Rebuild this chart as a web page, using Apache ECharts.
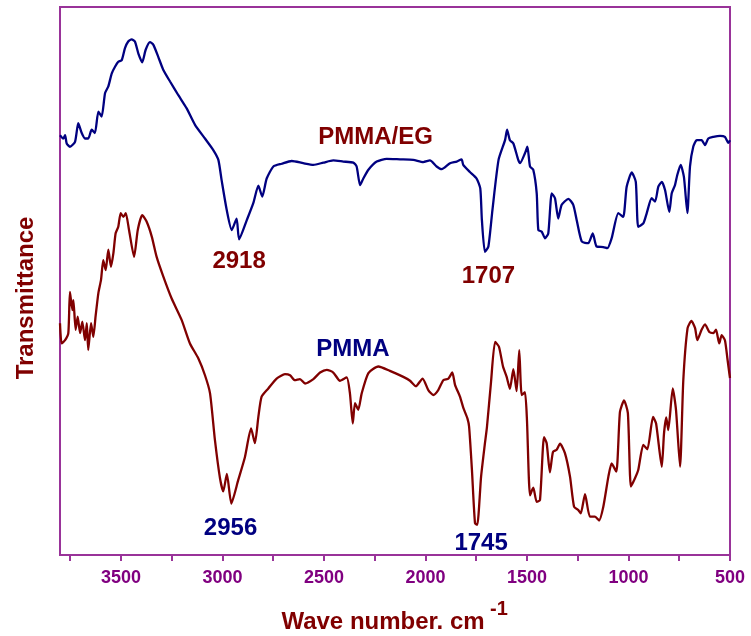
<!DOCTYPE html>
<html>
<head>
<meta charset="utf-8">
<script src="https://cdn.jsdelivr.net/npm/echarts@6/dist/echarts.min.js"></script>
<style>
  html, body { margin: 0; padding: 0; background: #ffffff; }
  #chart { width: 751px; height: 636px; }
</style>
</head>
<body>
<div id="chart"></div>
<script>
// FTIR spectra: wavenumber (cm-1) and transmittance (arbitrary units, curves offset)
const pmmaEgWn = [3800,3784,3775,3767,3751,3726,3710,3693,3677,3661,
  3644,3628,3611,3595,3578,3562,3545,3529,3513,3496,
  3480,3464,3447,3431,3414,3395,3378,3357,3340,3316,
  3291,3258,3217,3176,3135,3086,3045,3020,3004,2979,
  2954,2930,2918,2880,2848,2823,2804,2782,2749,2708,
  2659,2602,2552,2503,2454,2405,2355,2339,2322,2306,
  2281,2240,2191,2125,2060,2011,1978,1945,1920,1879,
  1846,1822,1814,1781,1748,1730,1722,1707,1690,1670,
  1640,1608,1598,1584,1567,1543,1534,1510,1498,1485,
  1469,1452,1444,1427,1411,1395,1378,1362,1346,1329,
  1296,1272,1255,1230,1198,1176,1157,1124,1104,1083,
  1050,1026,1009,984,964,952,927,910,886,869,
  853,836,820,799,787,771,760,743,727,710,
  697,681,664,640,623,607,582,549,525,508,
  500];
const pmmaEgT = [76.6,76.0,76.6,75.1,74.5,75.4,78.8,77.0,76.0,76.0,
  77.6,77.0,80.9,80.0,84.3,85.5,87.9,89.1,90.0,90.3,
  92.5,93.7,94.1,93.7,91.5,89.9,92.2,93.6,93.1,90.9,
  88.5,86.4,83.9,81.5,78.5,76.0,73.9,72.1,68.4,63.0,
  59.3,61.4,57.6,61.1,64.2,67.4,65.4,68.7,70.9,71.4,
  71.9,71.5,71.2,71.6,72.0,71.8,71.6,70.9,67.5,68.7,
  70.3,71.8,72.3,72.2,72.1,71.7,72.0,70.9,70.4,71.5,
  71.8,72.2,71.2,69.9,68.7,66.9,61.1,55.3,56.3,63.0,
  72.1,75.7,77.6,75.7,75.1,72.1,71.5,73.3,74.5,70.9,
  70.3,66.0,59.3,59.0,57.8,58.7,66.0,65.1,61.4,63.9,
  65.0,63.9,61.1,57.2,56.9,58.7,56.3,56.2,56.0,57.8,
  62.4,61.7,67.2,69.8,68.1,59.9,60.5,62.4,65.1,64.5,
  67.2,68.1,66.6,62.6,66.0,67.5,69.3,71.2,69.0,62.4,
  70.9,74.5,75.7,75.7,74.8,76.0,76.3,76.5,76.3,75.2,
  75.7];

const pmmaWn = [3800,3792,3775,3759,3751,3739,3734,3723,3713,3701,
  3690,3677,3668,3661,3647,3636,3624,3611,3598,3587,
  3575,3562,3549,3537,3526,3513,3501,3488,3476,3460,
  3435,3417,3395,3373,3348,3324,3291,3250,3201,3160,
  3119,3086,3061,3037,3012,2996,2978,2956,2922,2889,
  2859,2840,2823,2807,2774,2733,2692,2667,2643,2618,
  2593,2552,2519,2486,2454,2421,2388,2372,2358,2347,
  2331,2314,2281,2232,2175,2109,2076,2047,2014,1986,
  1961,1937,1912,1887,1868,1854,1830,1813,1793,1785,
  1771,1756,1745,1726,1707,1697,1677,1657,1638,1618,
  1600,1584,1567,1551,1538,1526,1510,1500,1485,1469,
  1452,1436,1416,1403,1387,1372,1354,1337,1313,1288,
  1268,1247,1235,1214,1190,1165,1145,1124,1099,1083,
  1060,1042,1022,1003,988,968,952,927,907,879,
  864,836,825,814,804,782,766,746,730,709,
  690,672,661,640,623,602,582,569,553,541,
  525,513,502,500];
const pmmaT = [42.3,38.6,39.2,40.5,48.0,44.7,46.5,41.1,43.5,40.5,
  42.6,39.2,42.3,37.4,42.3,39.8,43.8,47.8,50.2,53.8,
  52.0,55.7,52.6,55.1,58.7,59.9,62.4,61.7,62.4,59.3,
  54.4,59.3,62.0,60.8,58.1,54.4,50.8,46.8,42.9,38.6,
  35.9,32.8,29.5,21.0,14.0,11.6,14.8,9.4,13.7,17.9,
  23.1,20.4,25.2,28.9,30.4,32.2,33.0,32.8,31.9,32.1,
  31.3,32.1,33.3,33.8,33.3,31.8,32.4,29.5,24.0,27.7,
  26.5,29.5,33.2,34.4,33.6,32.5,31.8,30.8,32.2,30.1,
  29.2,30.1,31.9,32.2,33.3,31.0,28.9,26.8,24.9,23.4,
  15.5,5.8,5.5,14.3,20.4,23.4,31.6,38.9,38.0,34.4,
  32.5,30.3,33.9,29.9,37.4,29.2,29.7,24.6,10.9,12.3,
  9.7,10.0,21.5,20.4,15.1,18.8,19.2,20.3,18.6,14.3,
  8.8,8.2,7.6,11.1,7.0,7.0,6.3,8.8,14.3,16.7,
  15.2,26.1,28.2,25.9,12.5,14.0,15.5,20.1,19.3,25.2,
  24.0,16.1,22.2,25.1,22.8,30.4,26.5,16.1,31.9,41.4,
  42.7,41.4,39.2,41.1,42.1,40.7,40.5,41.1,38.6,40.1,
  39.2,35.9,32.8,32.3];

// Axis ticks and labels
const majorTicks = [3500, 3000, 2500, 2000, 1500, 1000, 500];
const allTicks = [3750, 3500, 3250, 3000, 2750, 2500, 2250, 2000, 1750, 1500, 1250, 1000, 750, 500];

// Peak annotations: text, wavenumber, transmittance position
const egNoteText = ['PMMA/EG', '2918', '1707'];
const egNoteWn = [2246, 2918, 1690];
const egNoteT = [76.3, 53.5, 50.9];
const pmmaNoteText = ['PMMA', '2956', '1745'];
const pmmaNoteWn = [2357, 2960, 1726];
const pmmaNoteT = [37.6, 4.9, 2.2];

const FONT = '"Liberation Sans", Arial, sans-serif';
const NAVY = '#000080';
const MAROON = '#800000';
const FRAME = '#993399';

const zip = (a, b) => a.map((v, i) => [v, b[i]]);

function noteSeries(texts, wns, ts, color) {
  return {
    type: 'scatter',
    silent: true,
    symbol: 'circle',
    symbolSize: 1,
    itemStyle: { color: 'rgba(0,0,0,0)', opacity: 1 },
    data: texts.map((t, i) => ({ value: [wns[i], ts[i]], name: t })),
    label: {
      show: true,
      position: 'inside',
      formatter: p => p.name,
      color: color,
      opacity: 1,
      textBorderWidth: 0,
      fontFamily: FONT,
      fontWeight: 'bold',
      fontSize: 24
    },
    z: 5
  };
}

const chart = echarts.init(document.getElementById('chart'), null, { renderer: 'canvas' });
chart.setOption({
  animation: false,
  backgroundColor: '#ffffff',
  grid: {
    left: 60, right: 21, top: 7, bottom: 81,
    show: true, borderColor: FRAME, borderWidth: 2, backgroundColor: 'rgba(0,0,0,0)'
  },
  xAxis: {
    type: 'value',
    min: 500, max: 3800, interval: 500,
    inverse: true,
    axisLine: { show: true, lineStyle: { color: FRAME, width: 2 } },
    axisTick: { show: true, length: 6, inside: false, customValues: allTicks, lineStyle: { color: FRAME, width: 2 } },
    axisLabel: {
      customValues: majorTicks,
      formatter: v => String(v),
      margin: 14,
      color: '#800080', fontFamily: FONT, fontWeight: 'bold', fontSize: 18
    },
    splitLine: { show: false }
  },
  yAxis: {
    type: 'value',
    min: 0, max: 100,
    axisLine: { show: false },
    axisTick: { show: false },
    axisLabel: { show: false },
    splitLine: { show: false }
  },
  series: [
    {
      name: 'PMMA/EG', type: 'line', data: zip(pmmaEgWn, pmmaEgT),
      showSymbol: false, smooth: 0.2, silent: true,
      lineStyle: { color: NAVY, width: 2.3 }
    },
    {
      name: 'PMMA', type: 'line', data: zip(pmmaWn, pmmaT),
      showSymbol: false, smooth: 0.2, silent: true,
      lineStyle: { color: MAROON, width: 2.3 }
    },
    noteSeries(egNoteText, egNoteWn, egNoteT, MAROON),
    noteSeries(pmmaNoteText, pmmaNoteWn, pmmaNoteT, NAVY)
  ],
  graphic: [
    {
      type: 'text', x: 383, y: 622,
      style: { text: 'Wave number. cm', font: 'bold 24px ' + FONT, fill: MAROON, align: 'center', verticalAlign: 'middle' }
    },
    {
      type: 'text', x: 490, y: 609,
      style: { text: '-1', font: 'bold 20px ' + FONT, fill: MAROON, align: 'left', verticalAlign: 'middle' }
    },
    {
      type: 'text', x: 26, y: 298, rotation: Math.PI / 2,
      style: { text: 'Transmittance', font: 'bold 24px ' + FONT, fill: MAROON, align: 'center', verticalAlign: 'middle' }
    }
  ]
});
</script>
</body>
</html>
